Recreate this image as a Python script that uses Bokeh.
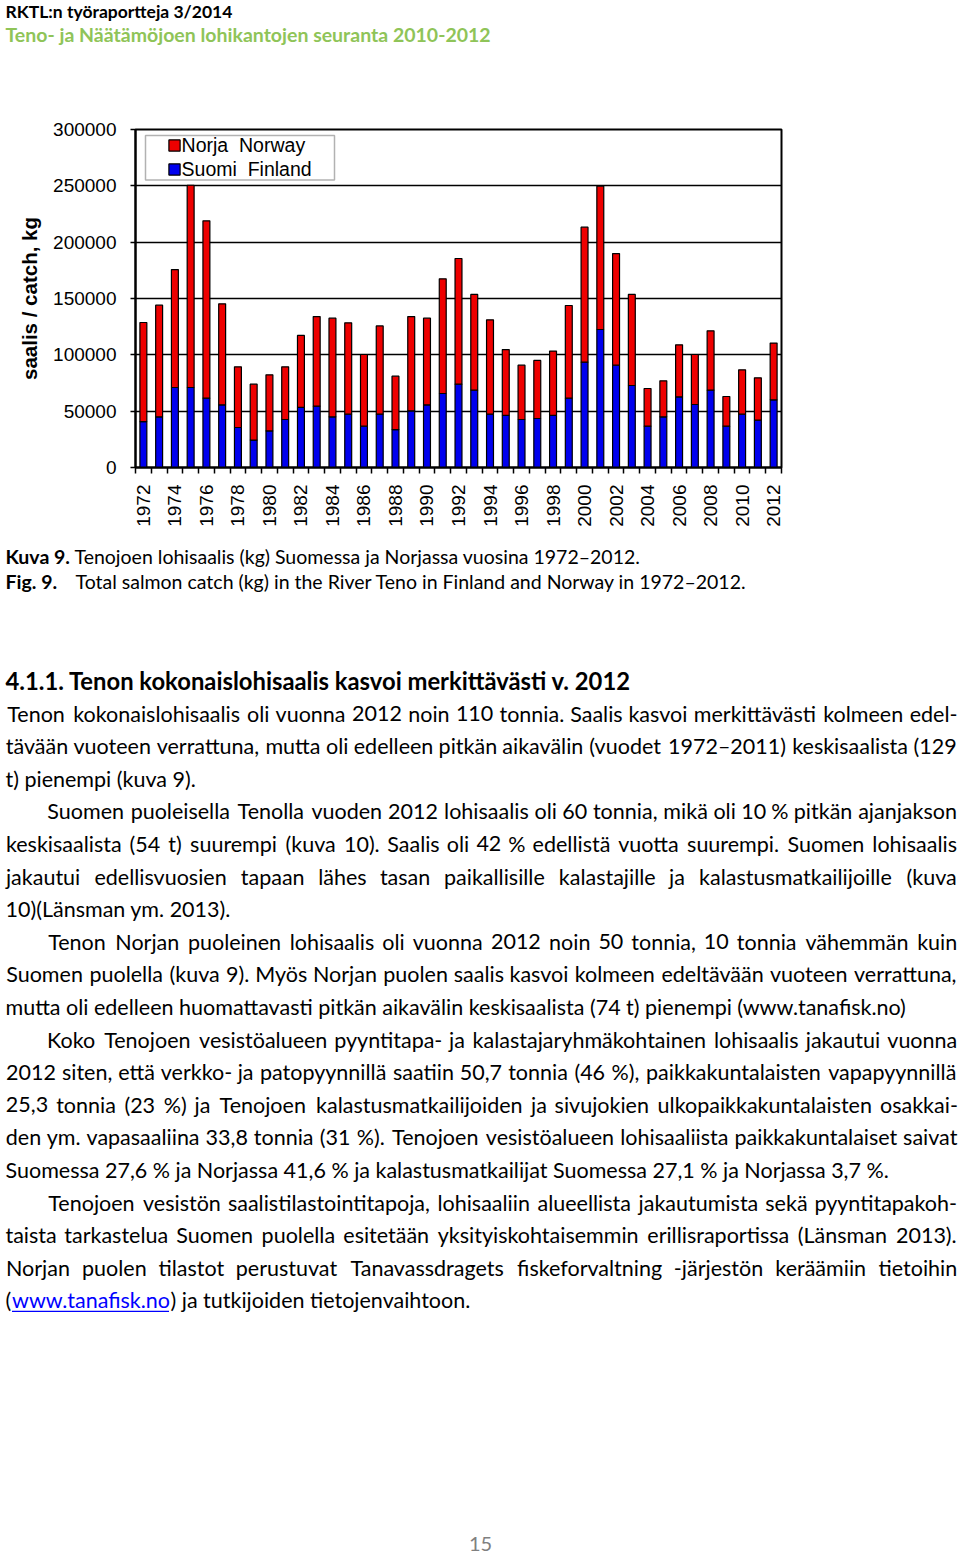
import math
from bokeh.plotting import figure
from bokeh.layouts import column
from bokeh.models import (ColumnDataSource, Range1d, FixedTicker, NumeralTickFormatter,
                          Legend, LegendItem, BoxAnnotation)
from bokeh.core.properties import value
from bokeh.embed import file_html
from bokeh.resources import INLINE

# ---------------- data (kg) ----------------
years = list(range(1972, 2013))
finland = [40800, 45000, 71000, 71000, 61500, 55600, 35500, 24300, 32500, 42600,
           53300, 54400, 45000, 47300, 36700, 47300, 33700, 50300, 55600, 65700,
           74000, 68600, 47300, 46200, 42600, 43500, 46200, 61500, 93500, 122500,
           90800, 72800, 36700, 45000, 62700, 55900, 68600, 36700, 47300, 42000,
           60100]
norway = [87900, 99100, 104700, 179500, 157400, 89700, 53900, 49700, 49800, 46800,
          63900, 79600, 87500, 81100, 63600, 78400, 47400, 83700, 76900, 101800,
          111500, 85000, 83800, 58500, 48200, 51500, 57100, 82300, 119800, 127200,
          99100, 80800, 33400, 31900, 46200, 44400, 52700, 26300, 39400, 37600,
          50300]
series_names = ["Suomi  Finland", "Norja  Norway"]
y_ticks = [0, 50000, 100000, 150000, 200000, 250000, 300000]
x_label_years = list(range(1972, 2013, 2))
y_title = "saalis / catch, kg"

BLUE = "#0000ee"
RED = "#ee0000"
AX_FONT = "Liberation Sans"
TXT_FONT = "Lato"
PAGE_W = 960


def text_fig(h):
    f = figure(width=PAGE_W, height=h, output_backend="svg", toolbar_location=None,
               x_range=Range1d(0, PAGE_W), y_range=Range1d(h, 0),
               x_axis_location=None, y_axis_location=None, min_border=0,
               frame_align=False)
    f.grid.visible = False
    f.outline_line_color = None
    f.background_fill_color = "white"
    f.border_fill_color = "white"
    return f


def put(f, y_off, text, px, py, size, bold=False, color="black", align="left"):
    f.text(x=[px], y=[py - y_off], text=[text], text_font=value(TXT_FONT),
           text_font_size=f"{size}px", text_font_style="bold" if bold else "normal",
           text_color=color, text_align=align, text_baseline="middle")


# rough relative advance widths (em) used only to spread words of a justified line
CW = {' ': 0.193, 'a': 0.49, 'b': 0.56, 'c': 0.46, 'd': 0.56, 'e': 0.52, 'f': 0.32,
      'g': 0.50, 'h': 0.56, 'i': 0.24, 'j': 0.24, 'k': 0.49, 'l': 0.24, 'm': 0.84,
      'n': 0.56, 'o': 0.56, 'p': 0.56, 'q': 0.56, 'r': 0.36, 's': 0.42, 't': 0.35,
      'u': 0.56, 'v': 0.50, 'w': 0.76, 'x': 0.49, 'y': 0.50, 'z': 0.45, 'ä': 0.49,
      'ö': 0.56, 'A': 0.67, 'B': 0.63, 'C': 0.66, 'D': 0.74, 'E': 0.55, 'F': 0.53,
      'G': 0.72, 'H': 0.75, 'I': 0.28, 'J': 0.39, 'K': 0.65, 'L': 0.48, 'M': 0.90,
      'N': 0.75, 'O': 0.79, 'P': 0.60, 'R': 0.62, 'S': 0.52, 'T': 0.58, 'U': 0.72,
      'V': 0.67, 'W': 1.0, 'Y': 0.62, '.': 0.22, ',': 0.22, '(': 0.31, ')': 0.31,
      '-': 0.34, '–': 0.58, '%': 0.78, ':': 0.22}
for d in "0123456789":
    CW[d] = 0.58


def justify(f, y_off, text, start, right, py, size, natural):
    words = text.split(" ")
    mw = [sum(CW.get(c, 0.5) for c in w) for w in words]
    model_total = (sum(mw) + CW[' '] * (len(words) - 1)) * size
    k = natural / model_total
    sp = CW[' '] * size * k
    extra = ((right - start) - natural) / (len(words) - 1)
    xs, x = [], start
    for m in mw:
        w = m * size * k
        xs.append(x + w / 2)
        x += w + sp + extra
    f.text(x=xs, y=[py - y_off] * len(xs), text=words, text_font=value(TXT_FONT),
           text_font_size=f"{size}px", text_color="black", text_align="center",
           text_baseline="middle")


# ---------------- header ----------------
TOP_H = 110
top = text_fig(TOP_H)
put(top, 0, "RKTL:n työraportteja 3/2014", 5, 11, 17.5, bold=True)
put(top, 0, "Teno- ja Näätämöjoen lohikantojen seuranta 2010-2012", 5, 34, 19.5, bold=True,
    color="#8fc458")

# ---------------- chart ----------------
CH_H = 430
p = figure(width=PAGE_W, height=CH_H, output_backend="svg", toolbar_location=None,
           x_range=Range1d(1971.5, 2012.5), y_range=Range1d(0, 300000),
           min_border_left=135, min_border_right=179,
           min_border_top=129 - TOP_H, min_border_bottom=TOP_H + CH_H - 467,
           frame_align=False)
p.background_fill_color = "white"
p.border_fill_color = "white"
p.outline_line_color = "black"
p.outline_line_width = 2

src = ColumnDataSource(dict(year=years, finland=finland, norway=norway))
rs = p.vbar_stack(["finland", "norway"], x="year", width=0.44, source=src,
                  fill_color=[BLUE, RED], line_color="black", line_width=1.2)

p.xgrid.visible = False
p.ygrid.ticker = FixedTicker(ticks=y_ticks)
p.ygrid.grid_line_color = "black"
p.ygrid.grid_line_width = 1.6

ya = p.yaxis[0]
ya.ticker = FixedTicker(ticks=y_ticks, minor_ticks=[])
ya.formatter = NumeralTickFormatter(format="0")
ya.major_label_text_font = AX_FONT
ya.major_label_text_font_size = "19px"
ya.major_label_text_color = "black"
ya.major_tick_out = 5
ya.major_tick_in = 0
ya.major_tick_line_width = 1.5
ya.major_tick_line_color = "black"
ya.minor_tick_out = 0
ya.axis_line_width = 2
ya.axis_line_color = "black"
ya.major_label_standoff = 14
ya.axis_label = y_title
ya.axis_label_text_font = AX_FONT
ya.axis_label_text_font_style = "bold"
ya.axis_label_text_font_size = "20.5px"
ya.axis_label_text_color = "black"
ya.axis_label_standoff = 9

xa = p.xaxis[0]
xa.ticker = FixedTicker(ticks=x_label_years,
                        minor_ticks=[y - 0.5 for y in years] + [years[-1] + 0.5])
xa.major_label_orientation = math.pi / 2
xa.major_label_text_font = AX_FONT
xa.major_label_text_font_size = "19px"
xa.major_label_text_color = "black"
xa.major_tick_out = 0
xa.major_tick_in = 0
xa.major_tick_line_color = None
xa.minor_tick_out = 6
xa.minor_tick_in = 0
xa.minor_tick_line_width = 1.5
xa.minor_tick_line_color = "black"
xa.axis_line_width = 2
xa.axis_line_color = "black"
xa.major_label_standoff = 11

box = BoxAnnotation(left=10, right=199, top=332, bottom=287.5,
                    left_units="screen", right_units="screen",
                    top_units="screen", bottom_units="screen",
                    fill_color="white", fill_alpha=1.0,
                    line_color="black", line_width=1.5)
p.add_layout(box)
legend = Legend(items=[LegendItem(label=series_names[1], renderers=[rs[1]]),
                       LegendItem(label=series_names[0], renderers=[rs[0]])],
                location=(31.6, 286.5), padding=0, margin=0, spacing=1,
                glyph_width=14, glyph_height=14, label_height=21, label_standoff=1,
                label_text_font=AX_FONT, label_text_font_size="19.5px",
                label_text_color="black",
                border_line_alpha=0, background_fill_alpha=0)
p.add_layout(legend)

# ---------------- text below ----------------
OFF = TOP_H + CH_H
BOT_H = 1556 - OFF
bot = text_fig(BOT_H)

CAP = 19.5
put(bot, OFF, "Kuva 9.", 5, 556, CAP, bold=True)
put(bot, OFF, "Tenojoen lohisaalis (kg) Suomessa ja Norjassa vuosina 1972–2012.", 74, 556, CAP)
put(bot, OFF, "Fig. 9.", 5, 581, CAP, bold=True)
put(bot, OFF, "Total salmon catch (kg) in the River Teno in Finland and Norway in 1972–2012.", 75, 581, CAP)

put(bot, OFF, "4.1.1. Tenon kokonaislohisaalis kasvoi merkittävästi v. 2012", 5, 680, 23.8, bold=True)

BODY = 21.5
RIGHT = 957
# (text, start x, natural width at 22px or None for a ragged last line)
body = [
    ("Tenon kokonaislohisaalis oli vuonna 2012 noin 110 tonnia. Saalis kasvoi merkittävästi kolmeen edel-", 5, 959),
    ("tävään vuoteen verrattuna, mutta oli edelleen pitkän aikavälin (vuodet 1972–2011) keskisaalista (129", 5, 969),
    ("t) pienempi (kuva 9).", 5, None),
    ("Suomen puoleisella Tenolla vuoden 2012 lohisaalis oli 60 tonnia, mikä oli 10 % pitkän ajanjakson", 46, 923),
    ("keskisaalista (54 t) suurempi (kuva 10). Saalis oli 42 % edellistä vuotta suurempi. Suomen lohisaalis", 5, 939),
    ("jakautui edellisvuosien tapaan lähes tasan paikallisille kalastajille ja kalastusmatkailijoille (kuva", 5, 895),
    ("10)(Länsman ym. 2013).", 5, None),
    ("Tenon Norjan puoleinen lohisaalis oli vuonna 2012 noin 50 tonnia, 10 tonnia vähemmän kuin", 46, 891),
    ("Suomen puolella (kuva 9). Myös Norjan puolen saalis kasvoi kolmeen edeltävään vuoteen verrattuna,", 5, 962.5),
    ("mutta oli edelleen huomattavasti pitkän aikavälin keskisaalista (74 t) pienempi (www.tanafisk.no)", 5, None),
    ("Koko Tenojoen vesistöalueen pyyntitapa- ja kalastajaryhmäkohtainen lohisaalis jakautui vuonna", 46, 911),
    ("2012 siten, että verkko- ja patopyynnillä saatiin 50,7 tonnia (46 %), paikkakuntalaisten vapapyynnillä", 5, 962.5),
    ("25,3 tonnia (23 %) ja Tenojoen kalastusmatkailijoiden ja sivujokien ulkopaikkakuntalaisten osakkai-", 5, 942),
    ("den ym. vapasaaliina 33,8 tonnia (31 %). Tenojoen vesistöalueen lohisaaliista paikkakuntalaiset saivat", 5, 963.6),
    ("Suomessa 27,6 % ja Norjassa 41,6 % ja kalastusmatkailijat Suomessa 27,1 % ja Norjassa 3,7 %.", 5, None),
    ("Tenojoen vesistön saalistilastointitapoja, lohisaaliin alueellista jakautumista sekä pyyntitapakoh-", 46, 916.3),
    ("taista tarkastelua Suomen puolella esitetään yksityiskohtaisemmin erillisraportissa (Länsman 2013).", 5, 948),
    ("Norjan puolen tilastot perustuvat Tanavassdragets fiskeforvaltning -järjestön keräämiin tietoihin", 5, 917),
]
y0, dy = 713, 32.6
for i, (t, x, nat) in enumerate(body):
    yy = y0 + i * dy
    if nat is None:
        put(bot, OFF, t, x, yy, BODY)
    else:
        justify(bot, OFF, t, x, RIGHT, yy, BODY, nat * BODY / 22)
ylast = y0 + len(body) * dy
put(bot, OFF, "(", 5, ylast, BODY)
put(bot, OFF, "www.tanafisk.no", 11.5, ylast, BODY, color="#0000ff")
put(bot, OFF, ") ja tutkijoiden tietojenvaihtoon.", 170, ylast, BODY)
bot.segment(x0=[11.5], y0=[ylast + 11 - OFF], x1=[168.5], y1=[ylast + 11 - OFF],
            line_color="#0000ff", line_width=1.3)

put(bot, OFF, "15", 480, 1543, 20, color="#808080", align="center")

page = column(top, p, bot, spacing=0)
open("out.html", "w").write(file_html(page, INLINE))
